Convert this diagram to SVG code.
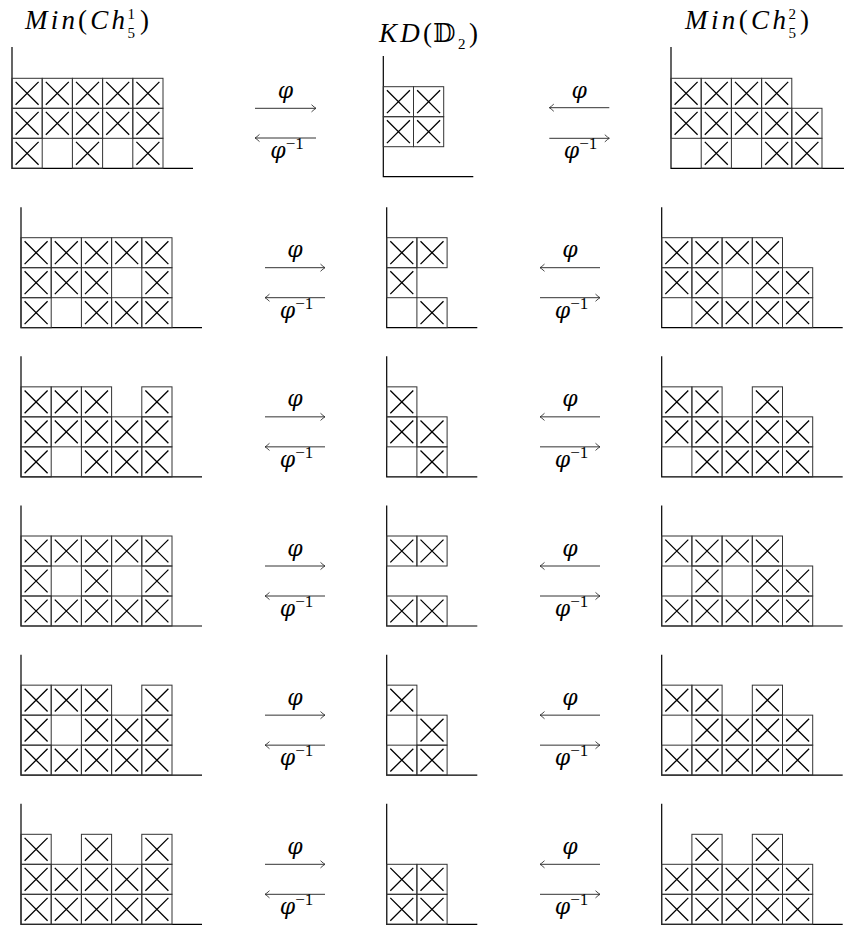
<svg xmlns="http://www.w3.org/2000/svg" xmlns:xlink="http://www.w3.org/1999/xlink" width="844" height="928" viewBox="0 0 844 928">
<style>
.ax{fill:none;stroke:#000;stroke-width:1.2}
.bx{fill:none;stroke:#333;stroke-width:1}
.xx{fill:none;stroke:#000;stroke-width:1.3}
.ar{fill:none;stroke:#333;stroke-width:1}
.m{font-family:"Liberation Serif","DejaVu Serif",serif;fill:#000}
.it{font-style:italic}
.lbl{font-family:"DejaVu Serif","Liberation Serif",serif;font-style:italic;font-size:22px;text-anchor:middle;fill:#000}
.sup{font-family:"Liberation Serif",serif;font-style:normal;font-size:17px}
</style>
<defs>
<g id="c"><rect class="bx" width="30.2" height="30"/><path class="xx" d="M3.6 3.6L26.6 26.4M26.6 3.6L3.6 26.4"/></g>
<marker id="to" viewBox="-6 -5 8 10" refX="0" refY="0" markerWidth="8" markerHeight="10" orient="auto" markerUnits="userSpaceOnUse"><path d="M-4.5 -3.6Q-1.6 -0.9 0 0Q-1.6 0.9 -4.5 3.6" fill="none" stroke="#333" stroke-width="0.9"/></marker>
</defs>

<g id="headers">
<text class="m" x="25" y="29" font-size="27" textLength="100" lengthAdjust="spacing"><tspan class="it">Min</tspan>(<tspan class="it">Ch</tspan></text>
<text class="m" x="127.5" y="19" font-size="15">1</text>
<text class="m" x="127.5" y="38" font-size="15">5</text>
<text class="m" x="140" y="29" font-size="27">)</text>
<text class="m" x="379" y="42" font-size="27" textLength="53" lengthAdjust="spacing"><tspan class="it">KD</tspan>(</text>
<text class="m" x="433" y="42" font-size="26">𝔻</text>
<text class="m" x="458" y="49" font-size="15">2</text>
<text class="m" x="469" y="42" font-size="27">)</text>
<text class="m" x="685" y="29" font-size="27" textLength="101" lengthAdjust="spacing"><tspan class="it">Min</tspan>(<tspan class="it">Ch</tspan></text>
<text class="m" x="788.5" y="19" font-size="15">2</text>
<text class="m" x="788.5" y="38" font-size="15">5</text>
<text class="m" x="800" y="29" font-size="27">)</text>
</g>

<!-- Row 1 -->
<g id="min1-1" transform="translate(12,168.3)"><path class="ax" d="M0 -121.3V0H181"/>
<use href="#c" x="0" y="-90"/><use href="#c" x="30.2" y="-90"/><use href="#c" x="60.4" y="-90"/><use href="#c" x="90.6" y="-90"/><use href="#c" x="120.8" y="-90"/>
<use href="#c" x="0" y="-60"/><use href="#c" x="30.2" y="-60"/><use href="#c" x="60.4" y="-60"/><use href="#c" x="90.6" y="-60"/><use href="#c" x="120.8" y="-60"/>
<use href="#c" x="0" y="-30"/><use href="#c" x="60.4" y="-30"/><use href="#c" x="120.8" y="-30"/>
</g>
<g id="kd-1" transform="translate(383.3,176.7)"><path class="ax" d="M0 -120.7V0H90"/>
<use href="#c" x="0" y="-90"/><use href="#c" x="30.2" y="-90"/>
<use href="#c" x="0" y="-60"/><use href="#c" x="30.2" y="-60"/>
</g>
<g id="min2-1" transform="translate(671,168.3)"><path class="ax" d="M0 -121.3V0H181"/>
<use href="#c" x="0" y="-90"/><use href="#c" x="30.2" y="-90"/><use href="#c" x="60.4" y="-90"/><use href="#c" x="90.6" y="-90"/>
<use href="#c" x="0" y="-60"/><use href="#c" x="30.2" y="-60"/><use href="#c" x="60.4" y="-60"/><use href="#c" x="90.6" y="-60"/><use href="#c" x="120.8" y="-60"/>
<use href="#c" x="30.2" y="-30"/><use href="#c" x="90.6" y="-30"/><use href="#c" x="120.8" y="-30"/>
</g>

<!-- Row 2 -->
<g id="min1-2" transform="translate(21,327.7)"><path class="ax" d="M0 -120.5V0H181"/>
<use href="#c" x="0" y="-90"/><use href="#c" x="30.2" y="-90"/><use href="#c" x="60.4" y="-90"/><use href="#c" x="90.6" y="-90"/><use href="#c" x="120.8" y="-90"/>
<use href="#c" x="0" y="-60"/><use href="#c" x="30.2" y="-60"/><use href="#c" x="60.4" y="-60"/><use href="#c" x="120.8" y="-60"/>
<use href="#c" x="0" y="-30"/><use href="#c" x="60.4" y="-30"/><use href="#c" x="90.6" y="-30"/><use href="#c" x="120.8" y="-30"/>
</g>
<g id="kd-2" transform="translate(386.7,327.7)"><path class="ax" d="M0 -120.5V0H90.6"/>
<use href="#c" x="0" y="-90"/><use href="#c" x="30.2" y="-90"/>
<use href="#c" x="0" y="-60"/>
<use href="#c" x="30.2" y="-30"/>
</g>
<g id="min2-2" transform="translate(661.7,327.7)"><path class="ax" d="M0 -120.5V0H181"/>
<use href="#c" x="0" y="-90"/><use href="#c" x="30.2" y="-90"/><use href="#c" x="60.4" y="-90"/><use href="#c" x="90.6" y="-90"/>
<use href="#c" x="0" y="-60"/><use href="#c" x="30.2" y="-60"/><use href="#c" x="90.6" y="-60"/><use href="#c" x="120.8" y="-60"/>
<use href="#c" x="30.2" y="-30"/><use href="#c" x="60.4" y="-30"/><use href="#c" x="90.6" y="-30"/><use href="#c" x="120.8" y="-30"/>
</g>

<!-- Row 3 -->
<g id="min1-3" transform="translate(21,476.85)"><path class="ax" d="M0 -120.5V0H181"/>
<use href="#c" x="0" y="-90"/><use href="#c" x="30.2" y="-90"/><use href="#c" x="60.4" y="-90"/><use href="#c" x="120.8" y="-90"/>
<use href="#c" x="0" y="-60"/><use href="#c" x="30.2" y="-60"/><use href="#c" x="60.4" y="-60"/><use href="#c" x="90.6" y="-60"/><use href="#c" x="120.8" y="-60"/>
<use href="#c" x="0" y="-30"/><use href="#c" x="60.4" y="-30"/><use href="#c" x="90.6" y="-30"/><use href="#c" x="120.8" y="-30"/>
</g>
<g id="kd-3" transform="translate(386.7,476.85)"><path class="ax" d="M0 -120.5V0H90.6"/>
<use href="#c" x="0" y="-90"/>
<use href="#c" x="0" y="-60"/><use href="#c" x="30.2" y="-60"/>
<use href="#c" x="30.2" y="-30"/>
</g>
<g id="min2-3" transform="translate(661.7,476.85)"><path class="ax" d="M0 -120.5V0H181"/>
<use href="#c" x="0" y="-90"/><use href="#c" x="30.2" y="-90"/><use href="#c" x="90.6" y="-90"/>
<use href="#c" x="0" y="-60"/><use href="#c" x="30.2" y="-60"/><use href="#c" x="60.4" y="-60"/><use href="#c" x="90.6" y="-60"/><use href="#c" x="120.8" y="-60"/>
<use href="#c" x="30.2" y="-30"/><use href="#c" x="60.4" y="-30"/><use href="#c" x="90.6" y="-30"/><use href="#c" x="120.8" y="-30"/>
</g>

<!-- Row 4 -->
<g id="min1-4" transform="translate(21,626)"><path class="ax" d="M0 -120.5V0H181"/>
<use href="#c" x="0" y="-90"/><use href="#c" x="30.2" y="-90"/><use href="#c" x="60.4" y="-90"/><use href="#c" x="90.6" y="-90"/><use href="#c" x="120.8" y="-90"/>
<use href="#c" x="0" y="-60"/><use href="#c" x="60.4" y="-60"/><use href="#c" x="120.8" y="-60"/>
<use href="#c" x="0" y="-30"/><use href="#c" x="30.2" y="-30"/><use href="#c" x="60.4" y="-30"/><use href="#c" x="90.6" y="-30"/><use href="#c" x="120.8" y="-30"/>
</g>
<g id="kd-4" transform="translate(386.7,626)"><path class="ax" d="M0 -120.5V0H90.6"/>
<use href="#c" x="0" y="-90"/><use href="#c" x="30.2" y="-90"/>
<use href="#c" x="0" y="-30"/><use href="#c" x="30.2" y="-30"/>
</g>
<g id="min2-4" transform="translate(661.7,626)"><path class="ax" d="M0 -120.5V0H181"/>
<use href="#c" x="0" y="-90"/><use href="#c" x="30.2" y="-90"/><use href="#c" x="60.4" y="-90"/><use href="#c" x="90.6" y="-90"/>
<use href="#c" x="30.2" y="-60"/><use href="#c" x="90.6" y="-60"/><use href="#c" x="120.8" y="-60"/>
<use href="#c" x="0" y="-30"/><use href="#c" x="30.2" y="-30"/><use href="#c" x="60.4" y="-30"/><use href="#c" x="90.6" y="-30"/><use href="#c" x="120.8" y="-30"/>
</g>

<!-- Row 5 -->
<g id="min1-5" transform="translate(21,775.15)"><path class="ax" d="M0 -120.5V0H181"/>
<use href="#c" x="0" y="-90"/><use href="#c" x="30.2" y="-90"/><use href="#c" x="60.4" y="-90"/><use href="#c" x="120.8" y="-90"/>
<use href="#c" x="0" y="-60"/><use href="#c" x="60.4" y="-60"/><use href="#c" x="90.6" y="-60"/><use href="#c" x="120.8" y="-60"/>
<use href="#c" x="0" y="-30"/><use href="#c" x="30.2" y="-30"/><use href="#c" x="60.4" y="-30"/><use href="#c" x="90.6" y="-30"/><use href="#c" x="120.8" y="-30"/>
</g>
<g id="kd-5" transform="translate(386.7,775.15)"><path class="ax" d="M0 -120.5V0H90.6"/>
<use href="#c" x="0" y="-90"/>
<use href="#c" x="30.2" y="-60"/>
<use href="#c" x="0" y="-30"/><use href="#c" x="30.2" y="-30"/>
</g>
<g id="min2-5" transform="translate(661.7,775.15)"><path class="ax" d="M0 -120.5V0H181"/>
<use href="#c" x="0" y="-90"/><use href="#c" x="30.2" y="-90"/><use href="#c" x="90.6" y="-90"/>
<use href="#c" x="30.2" y="-60"/><use href="#c" x="60.4" y="-60"/><use href="#c" x="90.6" y="-60"/><use href="#c" x="120.8" y="-60"/>
<use href="#c" x="0" y="-30"/><use href="#c" x="30.2" y="-30"/><use href="#c" x="60.4" y="-30"/><use href="#c" x="90.6" y="-30"/><use href="#c" x="120.8" y="-30"/>
</g>

<!-- Row 6 -->
<g id="min1-6" transform="translate(21,924.3)"><path class="ax" d="M0 -120.5V0H181"/>
<use href="#c" x="0" y="-90"/><use href="#c" x="60.4" y="-90"/><use href="#c" x="120.8" y="-90"/>
<use href="#c" x="0" y="-60"/><use href="#c" x="30.2" y="-60"/><use href="#c" x="60.4" y="-60"/><use href="#c" x="90.6" y="-60"/><use href="#c" x="120.8" y="-60"/>
<use href="#c" x="0" y="-30"/><use href="#c" x="30.2" y="-30"/><use href="#c" x="60.4" y="-30"/><use href="#c" x="90.6" y="-30"/><use href="#c" x="120.8" y="-30"/>
</g>
<g id="kd-6" transform="translate(386.7,924.3)"><path class="ax" d="M0 -120.5V0H90.6"/>
<use href="#c" x="0" y="-60"/><use href="#c" x="30.2" y="-60"/>
<use href="#c" x="0" y="-30"/><use href="#c" x="30.2" y="-30"/>
</g>
<g id="min2-6" transform="translate(661.7,924.3)"><path class="ax" d="M0 -120.5V0H181"/>
<use href="#c" x="30.2" y="-90"/><use href="#c" x="90.6" y="-90"/>
<use href="#c" x="0" y="-60"/><use href="#c" x="30.2" y="-60"/><use href="#c" x="60.4" y="-60"/><use href="#c" x="90.6" y="-60"/><use href="#c" x="120.8" y="-60"/>
<use href="#c" x="0" y="-30"/><use href="#c" x="30.2" y="-30"/><use href="#c" x="60.4" y="-30"/><use href="#c" x="90.6" y="-30"/><use href="#c" x="120.8" y="-30"/>
</g>

<g id="connectors">
<!-- row 1 -->
<path class="ar" d="M255 108.3H316" marker-end="url(#to)"/>
<path class="ar" d="M316 138H255" marker-end="url(#to)"/>
<text class="lbl" x="285.5" y="97.5">φ</text>
<text class="lbl" x="287" y="158">φ<tspan class="sup" dy="-9">−1</tspan></text>
<path class="ar" d="M609.3 107.7H549.3" marker-end="url(#to)"/>
<path class="ar" d="M549.3 138.3H609.3" marker-end="url(#to)"/>
<text class="lbl" x="579.3" y="97.5">φ</text>
<text class="lbl" x="580.5" y="158">φ<tspan class="sup" dy="-9">−1</tspan></text>
<!-- rows 2-6 -->
<g transform="translate(0,327.7)">
<path class="ar" d="M265 -60H325" marker-end="url(#to)"/><path class="ar" d="M325 -30H265" marker-end="url(#to)"/>
<text class="lbl" x="295" y="-70.5">φ</text><text class="lbl" x="296.5" y="-10">φ<tspan class="sup" dy="-9">−1</tspan></text>
<path class="ar" d="M600 -60H540" marker-end="url(#to)"/><path class="ar" d="M540 -30H600" marker-end="url(#to)"/>
<text class="lbl" x="570" y="-70.5">φ</text><text class="lbl" x="571.5" y="-10">φ<tspan class="sup" dy="-9">−1</tspan></text>
</g>
<g transform="translate(0,476.85)">
<path class="ar" d="M265 -60H325" marker-end="url(#to)"/><path class="ar" d="M325 -30H265" marker-end="url(#to)"/>
<text class="lbl" x="295" y="-70.5">φ</text><text class="lbl" x="296.5" y="-10">φ<tspan class="sup" dy="-9">−1</tspan></text>
<path class="ar" d="M600 -60H540" marker-end="url(#to)"/><path class="ar" d="M540 -30H600" marker-end="url(#to)"/>
<text class="lbl" x="570" y="-70.5">φ</text><text class="lbl" x="571.5" y="-10">φ<tspan class="sup" dy="-9">−1</tspan></text>
</g>
<g transform="translate(0,626)">
<path class="ar" d="M265 -60H325" marker-end="url(#to)"/><path class="ar" d="M325 -30H265" marker-end="url(#to)"/>
<text class="lbl" x="295" y="-70.5">φ</text><text class="lbl" x="296.5" y="-10">φ<tspan class="sup" dy="-9">−1</tspan></text>
<path class="ar" d="M600 -60H540" marker-end="url(#to)"/><path class="ar" d="M540 -30H600" marker-end="url(#to)"/>
<text class="lbl" x="570" y="-70.5">φ</text><text class="lbl" x="571.5" y="-10">φ<tspan class="sup" dy="-9">−1</tspan></text>
</g>
<g transform="translate(0,775.15)">
<path class="ar" d="M265 -60H325" marker-end="url(#to)"/><path class="ar" d="M325 -30H265" marker-end="url(#to)"/>
<text class="lbl" x="295" y="-70.5">φ</text><text class="lbl" x="296.5" y="-10">φ<tspan class="sup" dy="-9">−1</tspan></text>
<path class="ar" d="M600 -60H540" marker-end="url(#to)"/><path class="ar" d="M540 -30H600" marker-end="url(#to)"/>
<text class="lbl" x="570" y="-70.5">φ</text><text class="lbl" x="571.5" y="-10">φ<tspan class="sup" dy="-9">−1</tspan></text>
</g>
<g transform="translate(0,924.3)">
<path class="ar" d="M265 -60H325" marker-end="url(#to)"/><path class="ar" d="M325 -30H265" marker-end="url(#to)"/>
<text class="lbl" x="295" y="-70.5">φ</text><text class="lbl" x="296.5" y="-10">φ<tspan class="sup" dy="-9">−1</tspan></text>
<path class="ar" d="M600 -60H540" marker-end="url(#to)"/><path class="ar" d="M540 -30H600" marker-end="url(#to)"/>
<text class="lbl" x="570" y="-70.5">φ</text><text class="lbl" x="571.5" y="-10">φ<tspan class="sup" dy="-9">−1</tspan></text>
</g>
</g>
</svg>
